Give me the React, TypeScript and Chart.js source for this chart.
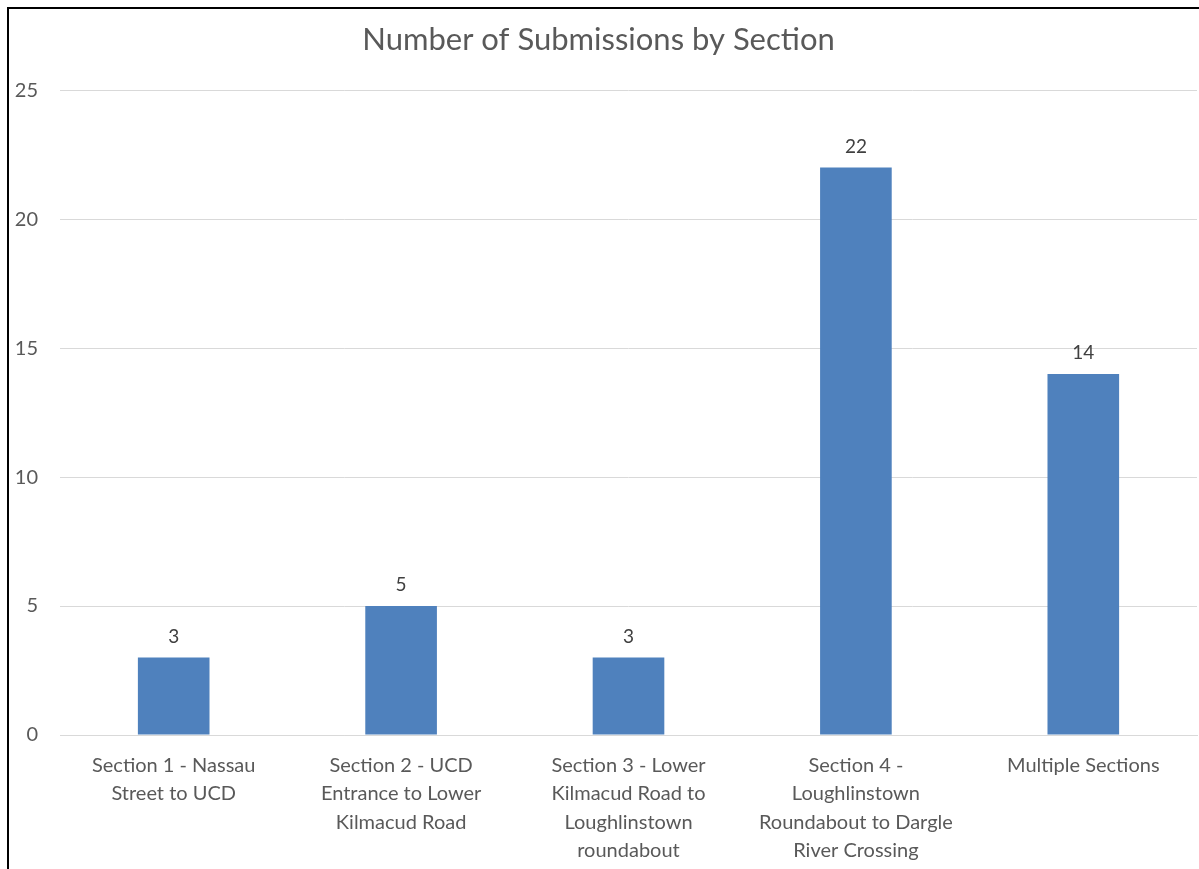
import React, { useEffect, useRef } from "react";
import { Chart, registerables } from "chart.js";

Chart.register(...registerables);

const categories: string[][] = [
  ["Section 1 - Nassau", "Street to UCD"],
  ["Section 2 - UCD", "Entrance to Lower", "Kilmacud Road"],
  ["Section 3 - Lower", "Kilmacud Road to", "Loughlinstown", "roundabout"],
  ["Section 4 -", "Loughlinstown", "Roundabout to Dargle", "River Crossing"],
  ["Multiple Sections"],
];
const submissions: number[] = [3, 5, 3, 22, 14];
const yTicks: number[] = [0, 5, 10, 15, 20, 25];

const FONT = "Lato, 'Open Sans', sans-serif";
const TEXT = "#595959";

// Writes each bar's value just above it.
const valueLabels = {
  id: "valueLabels",
  afterDatasetsDraw(chart: any) {
    const ctx = chart.ctx;
    const meta = chart.getDatasetMeta(0);
    ctx.save();
    ctx.font = `19px ${FONT}`;
    ctx.fillStyle = "#404040";
    ctx.textAlign = "center";
    ctx.textBaseline = "middle";
    meta.data.forEach((bar: any, i: number) => {
      ctx.fillText(String(submissions[i]), bar.x, bar.y - 21);
    });
    ctx.restore();
  },
};

export default function App() {
  const canvasRef = useRef<HTMLCanvasElement | null>(null);

  useEffect(() => {
    if (!canvasRef.current) return;
    const chart = new Chart(canvasRef.current, {
      type: "bar",
      data: {
        labels: categories,
        datasets: [
          {
            data: submissions,
            backgroundColor: "#4F81BD",
            borderWidth: 0,
            barPercentage: 1,
            categoryPercentage: 0.315,
          },
        ],
      },
      options: {
        animation: false,
        responsive: false,
        maintainAspectRatio: false,
        layout: { padding: { left: 0, right: 2, top: 0, bottom: 0 } },
        plugins: {
          legend: { display: false },
          tooltip: { enabled: false },
          title: {
            display: true,
            text: "Number of Submissions by Section",
            color: TEXT,
            font: { family: FONT, size: 31, weight: "normal", lineHeight: 1.2 },
            padding: { top: 21, bottom: 32 },
          },
        },
        scales: {
          x: {
            grid: { display: false, drawTicks: false },
            border: { display: true, color: "#D9D9D9", width: 1 },
            ticks: {
              color: TEXT,
              font: { family: FONT, size: 20, lineHeight: 1.425 },
              padding: 16,
              maxRotation: 0,
              autoSkip: false,
            },
            afterFit(scale: any) {
              scale.height = 134;
            },
          },
          y: {
            min: 0,
            max: 25,
            afterBuildTicks(scale: any) {
              scale.ticks = yTicks.map((v) => ({ value: v }));
            },
            grid: { color: "#D9D9D9", drawTicks: false, lineWidth: 1 },
            border: { display: false },
            ticks: {
              color: TEXT,
              font: { family: FONT, size: 20 },
              padding: 22,
            },
            afterFit(scale: any) {
              scale.width = 60;
            },
          },
        },
      },
      plugins: [valueLabels],
    });
    return () => chart.destroy();
  }, []);

  return (
    <div
      style={{
        position: "fixed",
        left: 0,
        top: 0,
        width: 1199,
        height: 869,
        background: "#ffffff",
        overflow: "hidden",
      }}
    >
      <canvas
        ref={canvasRef}
        width={1199}
        height={869}
        style={{ position: "absolute", left: 0, top: 0 }}
      />
      <div
        style={{
          position: "absolute",
          left: 7,
          top: 7,
          width: 1192,
          height: 862,
          borderTop: "2px solid #000",
          borderLeft: "2px solid #000",
          boxSizing: "border-box",
          pointerEvents: "none",
        }}
      />
    </div>
  );
}
